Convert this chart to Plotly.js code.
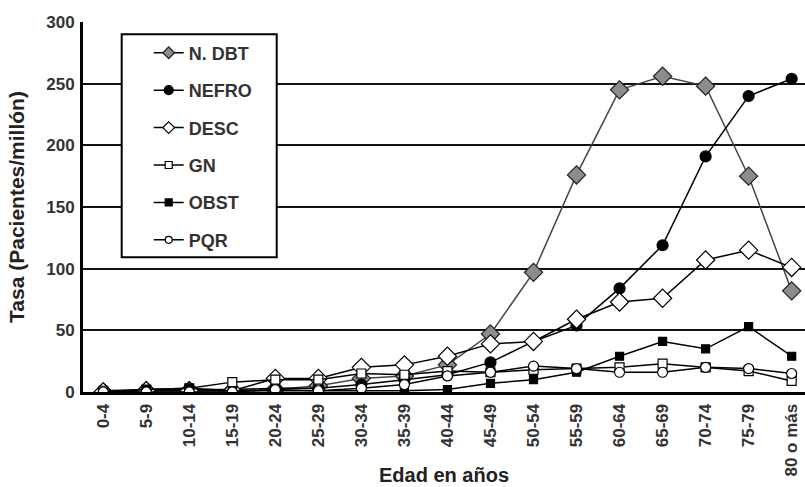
<!DOCTYPE html>
<html>
<head>
<meta charset="utf-8">
<script src="https://cdn.plot.ly/plotly-3.0.1.min.js"></script>
<style>html,body{margin:0;padding:0;background:#fff;}#chart{width:805px;height:487px;}</style>
</head>
<body>
<div id="chart"></div>
<script>
const categories = ['0-4','5-9','10-14','15-19','20-24','25-29','30-34','35-39','40-44','45-49','50-54','55-59','60-64','65-69','70-74','75-79','80 o más'];
const nDbt  = [0,1,1,1,2,5,11,13,22,47,97,176,245,256,248,175,82];
const nefro = [0,1,2,2,3,3,6,10,14,24,41,54,84,119,191,240,254];
const desc  = [0,1,1,1,11,11,20,22,29,39,41,59,73,76,107,115,101];
const gn    = [1,2,3,8,10,10,15,14,17,16,18,19,20,23,20,17,9];
const obst  = [0,2,3,1,1,1,1,1,2,7,10,16,29,41,35,53,29];
const pqr   = [0,0,0,0,2,1,3,6,13,16,21,19,16,16,20,19,15];
const seriesNames = ['N. DBT','NEFRO','DESC','GN','OBST','PQR'];
const yTicks = [0,50,100,150,200,250,300];

const FONT = 'Liberation Sans, Arial, Helvetica, sans-serif';
const styles = [
  {lc:'#454545', sym:'diamond', size:14, lsize:9, fill:'#8c8c8c', out:'#202020'},
  {lc:'#000000', sym:'circle',  size:11, lsize:9, fill:'#000000', out:'#000000'},
  {lc:'#000000', sym:'diamond', size:14, lsize:9, fill:'#ffffff', out:'#000000'},
  {lc:'#000000', sym:'square',  size:9,  lsize:7, fill:'#ffffff', out:'#000000'},
  {lc:'#000000', sym:'square',  size:8,  lsize:7, fill:'#000000', out:'#000000'},
  {lc:'#000000', sym:'circle',  size:10, lsize:7, fill:'#ffffff', out:'#000000'}
];
const values = [nDbt, nefro, desc, gn, obst, pqr];
const data = [];
values.forEach((y, i) => {
  const s = styles[i];
  data.push({
    type:'scatter', mode:'lines+markers', name:seriesNames[i], legendgroup:seriesNames[i], showlegend:false,
    x:categories, y:y,
    line:{color:s.lc, width:1.5},
    marker:{symbol:s.sym, size:s.size, color:s.fill, line:{color:s.out, width:1.2}}
  });
});
// legend entries (smaller symbols, as in the original legend)
values.forEach((y, i) => {
  const s = styles[i];
  data.push({
    type:'scatter', mode:'lines+markers', name:seriesNames[i], legendgroup:seriesNames[i], showlegend:true,
    x:[categories[0]], y:[null], hoverinfo:'skip',
    line:{color:'#000', width:1.5},
    marker:{symbol:s.sym, size:s.lsize, color:s.fill, line:{color:s.out, width:1.2}}
  });
});
const layout = {
  width:805, height:487,
  margin:{l:83, r:0, t:22, b:95},
  paper_bgcolor:'#fff', plot_bgcolor:'#fff',
  font:{family:FONT, color:'#333', weight:'bold'},
  xaxis:{
    type:'category', range:[-0.47, 16.31],
    tickangle:-90, tickfont:{family:FONT, size:17, color:'#333', weight:'bold'},
    showgrid:false, zeroline:false,
    showline:true, linecolor:'#000', linewidth:3, mirror:false,
    ticks:'', ticklabelstandoff:2, automargin:false
  },
  yaxis:{
    range:[0,300], tickvals:yTicks, ticktext:yTicks.map(String),
    tickfont:{family:FONT, size:17, color:'#333', weight:'bold'},
    showgrid:true, gridcolor:'#111', gridwidth:2,
    zeroline:false, showline:true, linecolor:'#000', linewidth:3,
    ticks:'', ticklabelstandoff:2, automargin:false,
    title:{text:'Tasa (Pacientes/millón)', font:{family:FONT, size:21, color:'#222', weight:'bold'}, standoff:16}
  },
  showlegend:true,
  legend:{
    x:0.091, y:0.966, xanchor:'left', yanchor:'top',
    bgcolor:'rgba(0,0,0,0)', borderwidth:0,
    traceorder:'grouped', tracegroupgap:11,
    font:{family:FONT, size:18, color:'#333', weight:'bold'},
    itemsizing:'trace'
  },
  shapes:[
    {type:'rect', xref:'paper', yref:'paper', x0:0.0536, x1:0.2683, y0:0.364, y1:0.967,
     line:{color:'#000', width:2}, fillcolor:'#fff', layer:'above'}
  ],
  annotations:[
    {text:'Edad en años', xref:'paper', yref:'paper', x:0.5, y:-0.225, xanchor:'center', yanchor:'middle',
     showarrow:false, font:{family:FONT, size:20, color:'#222', weight:'bold'}}
  ]
};
Plotly.newPlot('chart', data, layout, {displayModeBar:false, staticPlot:true});
</script>
</body>
</html>
